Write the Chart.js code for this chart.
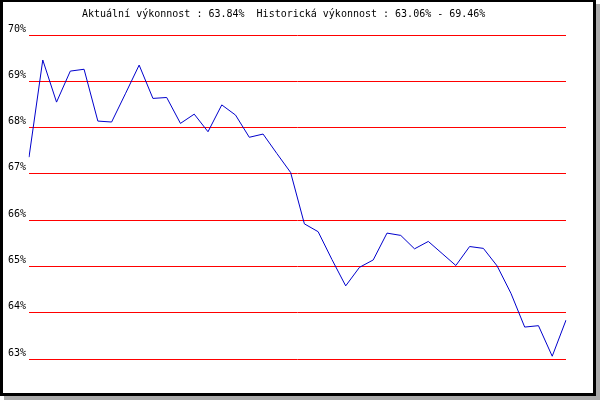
<!DOCTYPE html>
<html>
<head>
<meta charset="utf-8">
<script src="https://cdn.jsdelivr.net/npm/chart.js@4/dist/chart.umd.min.js"></script>
<style>
  body { margin: 0; background: #fff; }
  #frame {
    position: absolute; left: 0; top: 0;
    width: 596px; height: 396px; box-sizing: border-box;
    border: 3px solid #000; border-top-width: 2px;
    box-shadow: 4px 4px 0 #aaa;
    background: #fff;
  }
  #chart { position: absolute; left: 0; top: 0; }
</style>
</head>
<body>
<div id="frame"></div>
<canvas id="chart" width="600" height="400"></canvas>
<script>
var titleText = 'Aktuální výkonnost : 63.84%  Historická výkonnost : 63.06% - 69.46%';

var days = [];
for (var i = 1; i <= 40; i++) days.push(String(i));

var performance = [
  67.36, 69.46, 68.55, 69.22, 69.26, 68.14, 68.12, 68.73, 69.35, 68.63,
  68.65, 68.09, 68.29, 67.91, 68.49, 68.27, 67.79, 67.86, 67.44, 67.03,
  65.92, 65.75, 65.15, 64.58, 64.98, 65.14, 65.72, 65.67, 65.38, 65.54,
  65.28, 65.02, 65.43, 65.39, 65.01, 64.42, 63.69, 63.72, 63.06, 63.84
];

var yMin = 63;
var yMax = 70;

// title drawn by hand so it can sit left of centre like the original
var titlePlugin = {
  id: 'plainTitle',
  afterDraw: function (chart) {
    var ctx = chart.ctx;
    ctx.save();
    ctx.font = '10px "DejaVu Sans Mono"';
    ctx.fillStyle = '#000';
    ctx.textAlign = 'left';
    ctx.textBaseline = 'middle';
    ctx.fillText(titleText, 82, 14);
    ctx.restore();
  }
};

var ctx = document.getElementById('chart').getContext('2d');
var chart = new Chart(ctx, {
  type: 'line',
  data: {
    labels: days,
    datasets: [{
      data: performance,
      borderColor: '#0000cc',
      borderWidth: 1,
      pointRadius: 0,
      tension: 0,
      fill: false
    }]
  },
  options: {
    responsive: false,
    animation: false,
    layout: { padding: { top: 35, bottom: 41, left: 0, right: 34 } },
    plugins: {
      legend: { display: false },
      title: { display: false },
      tooltip: { enabled: false }
    },
    scales: {
      x: { display: false },
      y: {
        min: yMin,
        max: yMax,
        afterFit: function (scale) { scale.width = 29; },
        border: { display: false },
        grid: { color: '#ff0000', lineWidth: 1, drawTicks: false },
        ticks: {
          stepSize: 1,
          padding: 3,
          labelOffset: -6,
          color: '#000',
          font: { family: 'DejaVu Sans Mono', size: 10 },
          callback: function (v) { return v + '%'; }
        }
      }
    }
  },
  plugins: [titlePlugin]
});
</script>
</body>
</html>
